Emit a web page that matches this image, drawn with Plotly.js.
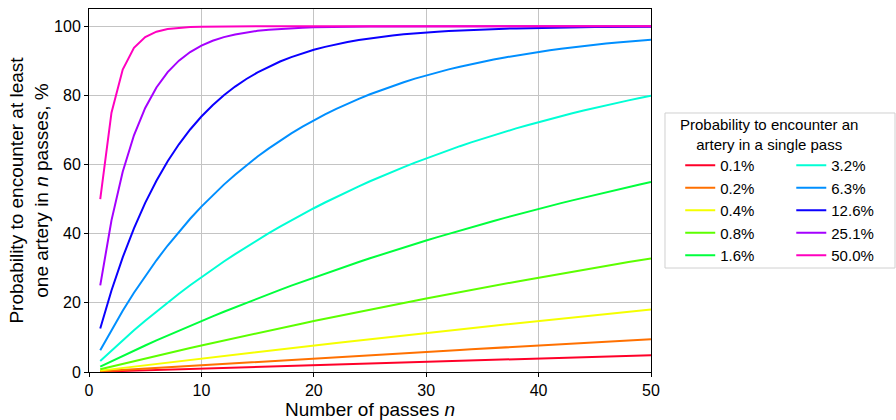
<!DOCTYPE html>
<html>
<head>
<meta charset="utf-8">
<script src="https://cdn.plot.ly/plotly-3.0.1.min.js"></script>
<style>
  html, body { margin: 0; padding: 0; background: #ffffff; }
  #chart { width: 896px; height: 420px; }
</style>
</head>
<body>
<div id="chart"></div>
<script>
// ---------- DATA ----------
const passes = [1,2,3,4,5,6,7,8,9,10,11,12,13,14,15,16,17,18,19,20,21,22,23,24,25,26,27,28,29,30,31,32,33,34,35,36,37,38,39,40,41,42,43,44,45,46,47,48,49,50];

const seriesLabels = ["0.1%", "0.2%", "0.4%", "0.8%", "1.6%", "3.2%", "6.3%", "12.6%", "25.1%", "50.0%"];

const p0_1 = [0.10,0.20,0.30,0.40,0.50,0.60,0.70,0.80,0.90,1.00,1.09,1.19,1.29,1.39,1.49,1.59,1.69,1.78,1.88,1.98,2.08,2.18,2.27,2.37,2.47,2.57,2.67,2.76,2.86,2.96,3.05,3.15,3.25,3.34,3.44,3.54,3.63,3.73,3.83,3.92,4.02,4.12,4.21,4.31,4.40,4.50,4.59,4.69,4.78,4.88];
const p0_2 = [0.20,0.40,0.60,0.80,0.99,1.19,1.39,1.58,1.78,1.98,2.17,2.37,2.56,2.76,2.95,3.14,3.34,3.53,3.72,3.92,4.11,4.30,4.49,4.68,4.87,5.06,5.25,5.44,5.63,5.82,6.00,6.19,6.38,6.56,6.75,6.94,7.12,7.31,7.49,7.68,7.86,8.05,8.23,8.41,8.59,8.78,8.96,9.14,9.32,9.50];
const p0_4 = [0.40,0.79,1.19,1.58,1.97,2.36,2.75,3.14,3.52,3.91,4.29,4.67,5.05,5.43,5.81,6.18,6.55,6.93,7.30,7.66,8.03,8.40,8.76,9.13,9.49,9.85,10.21,10.56,10.92,11.27,11.63,11.98,12.33,12.68,13.02,13.37,13.72,14.06,14.40,14.74,15.08,15.42,15.75,16.09,16.42,16.76,17.09,17.42,17.75,18.07];
const p0_8 = [0.79,1.58,2.36,3.14,3.91,4.67,5.43,6.18,6.92,7.66,8.39,9.12,9.84,10.56,11.27,11.97,12.67,13.36,14.05,14.73,15.41,16.08,16.75,17.41,18.06,18.71,19.36,20.00,20.63,21.26,21.89,22.51,23.12,23.73,24.34,24.94,25.54,26.13,26.71,27.30,27.87,28.44,29.01,29.58,30.13,30.69,31.24,31.79,32.33,32.86];
const p1_6 = [1.58,3.14,4.67,6.18,7.67,9.13,10.57,11.98,13.38,14.75,16.10,17.43,18.73,20.02,21.29,22.53,23.76,24.97,26.15,27.32,28.47,29.61,30.72,31.82,32.90,33.96,35.00,36.03,37.05,38.04,39.02,39.99,40.94,41.87,42.79,43.70,44.59,45.47,46.33,47.18,48.02,48.84,49.65,50.45,51.23,52.00,52.76,53.51,54.25,54.97];
const p3_2 = [3.16,6.22,9.18,12.05,14.82,17.51,20.12,22.64,25.08,27.45,29.74,31.96,34.11,36.19,38.21,40.16,42.05,43.88,45.65,47.37,49.03,50.64,52.20,53.71,55.17,56.58,57.95,59.28,60.57,61.81,63.02,64.19,65.32,66.41,67.47,68.50,69.50,70.46,71.39,72.30,73.17,74.02,74.84,75.63,76.40,77.15,77.87,78.57,79.25,79.90];
const p6_3 = [6.30,12.20,17.73,22.92,27.77,32.32,36.59,40.58,44.33,47.83,51.12,54.20,57.08,59.79,62.32,64.70,66.92,69.00,70.96,72.79,74.50,76.11,77.61,79.02,80.34,81.58,82.74,83.83,84.85,85.80,86.70,87.54,88.32,89.06,89.75,90.39,91.00,91.56,92.10,92.59,93.06,93.50,93.91,94.29,94.65,94.99,95.30,95.60,95.88,96.14];
const p12_6 = [12.57,23.56,33.17,41.57,48.91,55.34,60.95,65.86,70.15,73.90,77.18,80.05,82.56,84.75,86.67,88.34,89.81,91.09,92.21,93.19,94.05,94.79,95.45,96.02,96.52,96.96,97.34,97.67,97.97,98.22,98.45,98.64,98.81,98.96,99.09,99.21,99.31,99.39,99.47,99.54,99.59,99.65,99.69,99.73,99.76,99.79,99.82,99.84,99.86,99.88];
const p25_1 = [25.07,43.86,57.93,68.48,76.38,82.30,86.74,90.06,92.55,94.42,95.82,96.87,97.65,98.24,98.68,99.01,99.26,99.45,99.58,99.69,99.77,99.83,99.87,99.90,99.93,99.94,99.96,99.97,99.98,99.98,99.99,99.99,99.99,99.99,99.99,100,100,100,100,100,100,100,100,100,100,100,100,100,100,100];
const p50_0 = [50.00,75.00,87.50,93.75,96.88,98.44,99.22,99.61,99.80,99.90,99.95,99.98,99.99,99.99,100,100,100,100,100,100,100,100,100,100,100,100,100,100,100,100,100,100,100,100,100,100,100,100,100,100,100,100,100,100,100,100,100,100,100,100];

const allSeries = [p0_1, p0_2, p0_4, p0_8, p1_6, p3_2, p6_3, p12_6, p25_1, p50_0];

const xTitle = "Number of passes <i>n</i>";
const yTitle = "Probability to encounter at least<br>one artery in <i>n</i> passes, %";
const legendTitle = "Probability to encounter an<br>artery in a single pass";

// ---------- STYLE ----------
const colors = ["#ff0029", "#ff7000", "#f5ff00", "#5cff00", "#00ff3d",
                "#00ffd5", "#008fff", "#0b00ff", "#a500ff", "#ff00bf"];
const FONT = "Liberation Sans, Arial, Helvetica, sans-serif";

const traces = allSeries.map((vals, i) => ({
  type: "scatter",
  mode: "lines",
  x: passes,
  y: vals,
  name: seriesLabels[i],
  line: { color: colors[i], width: 2 },
  legend: i < 5 ? "legend" : "legend2",
  hoverinfo: "skip"
}));

const legendCommon = {
  orientation: "v",
  bgcolor: "rgba(0,0,0,0)",
  borderwidth: 0,
  font: { family: FONT, size: 15, color: "#000" },
  xanchor: "left",
  yanchor: "top",
  y: 0.614,
  tracegroupgap: 0
};

const layout = {
  width: 896,
  height: 420,
  paper_bgcolor: "#ffffff",
  plot_bgcolor: "#ffffff",
  margin: { l: 89, r: 245, t: 9, b: 48, pad: 0, autoexpand: false },
  font: { family: FONT, size: 16, color: "#000" },
  showlegend: true,
  xaxis: {
    range: [0, 50],
    tickvals: [0, 10, 20, 30, 40, 50],
    ticks: "outside",
    ticklen: 4,
    tickcolor: "#000",
    tickfont: { family: FONT, size: 16, color: "#000" },
    showline: true,
    linecolor: "#000",
    linewidth: 1,
    mirror: true,
    showgrid: true,
    gridcolor: "#c4c4c4",
    gridwidth: 1,
    zeroline: false,
    title: { text: xTitle, font: { family: FONT, size: 19, color: "#000" }, standoff: 4 }
  },
  yaxis: {
    range: [0, 105],
    tickvals: [0, 20, 40, 60, 80, 100],
    ticks: "outside",
    ticklen: 4,
    tickcolor: "#000",
    tickfont: { family: FONT, size: 16, color: "#000" },
    showline: true,
    linecolor: "#000",
    linewidth: 1,
    mirror: true,
    showgrid: true,
    gridcolor: "#c4c4c4",
    gridwidth: 1,
    zeroline: false,
    title: { text: yTitle, font: { family: FONT, size: 19, color: "#000" }, standoff: 0 }
  },
  legend: Object.assign({}, legendCommon, { x: 1.052 }),
  legend2: Object.assign({}, legendCommon, { x: 1.2496 }),
  shapes: [{
    type: "rect",
    xref: "paper", yref: "paper",
    x0: 1.0249, x1: 1.4342, y0: 0.2865, y1: 0.7135,
    line: { color: "#d0d0d0", width: 1 },
    fillcolor: "rgba(255,255,255,0.8)",
    layer: "below"
  }],
  annotations: [{
    xref: "paper", yref: "paper",
    x: 1.2100, y: 0.6556,
    xanchor: "center", yanchor: "middle",
    text: legendTitle,
    showarrow: false,
    align: "center",
    font: { family: FONT, size: 15, color: "#000" }
  }]
};

Plotly.newPlot("chart", traces, layout, { staticPlot: true, displayModeBar: false });
</script>
</body>
</html>
